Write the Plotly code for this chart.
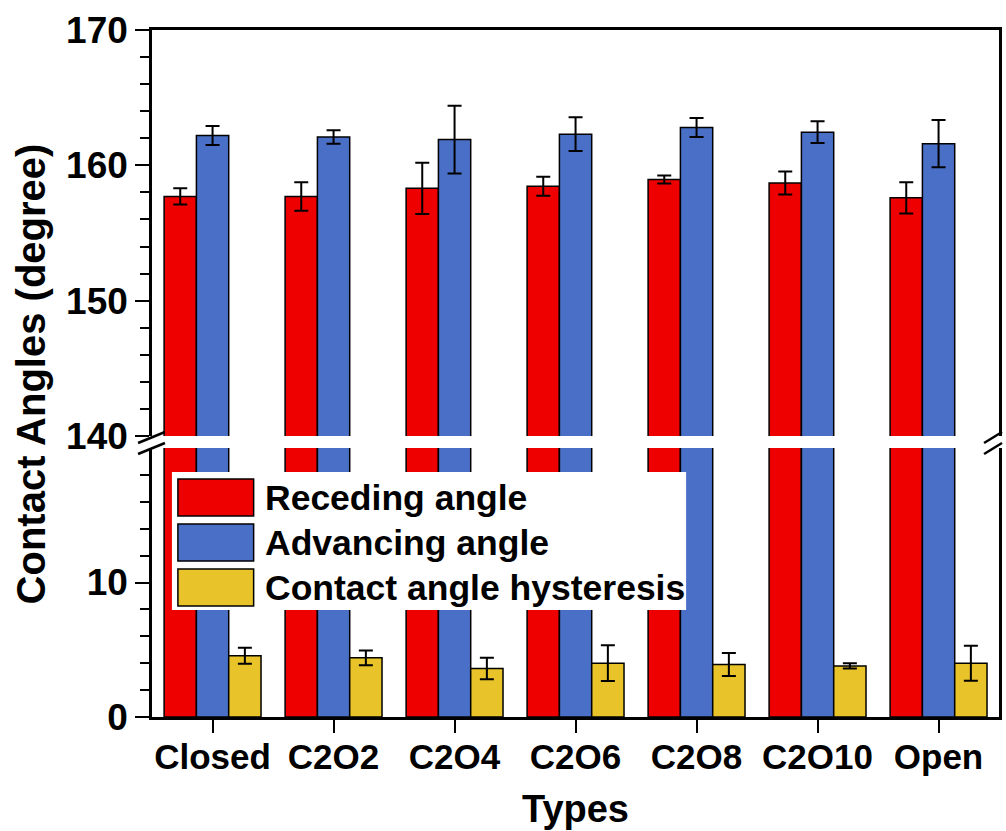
import plotly.graph_objects as go

categories = ["Closed", "C2O2", "C2O4", "C2O6", "C2O8", "C2O10", "Open"]
receding = [157.7, 157.7, 158.3, 158.45, 158.95, 158.7, 157.6]
receding_err = [0.6, 1.05, 1.9, 0.7, 0.3, 0.85, 1.15]
advancing = [162.2, 162.1, 161.9, 162.3, 162.8, 162.45, 161.6]
advancing_err = [0.7, 0.5, 2.5, 1.25, 0.7, 0.8, 1.75]
hysteresis = [4.55, 4.4, 3.6, 4.0, 3.9, 3.8, 4.0]
hysteresis_err = [0.6, 0.55, 0.8, 1.33, 0.85, 0.2, 1.3]
series_names = ["Receding angle", "Advancing angle", "Contact angle hysteresis"]
colors = ["#EE0000", "#4A6FC6", "#E9C32A"]

W, H = 1006, 831
L, R, T, B = 152, 4, 30, 114
PW, PH = W - L - R, H - T - B


def xp(px):
    return (px - L) / PW


def yp(py):
    return (H - B - py) / PH


FONT = "Liberation Sans, Arial, sans-serif"
bw = 0.267
offsets = [-0.4, -0.4 + bw, -0.4 + 2 * bw]

fig = go.Figure()


def err(arr):
    return dict(type="data", array=arr, visible=True, color="black", thickness=2, width=7)


# lower panel (all three series)
for vals, e, name, c, off in [
    (receding, None, series_names[0], colors[0], offsets[0]),
    (advancing, None, series_names[1], colors[1], offsets[1]),
    (hysteresis, hysteresis_err, series_names[2], colors[2], offsets[2]),
]:
    fig.add_trace(go.Bar(
        x=categories, y=vals, name=name, width=bw, offset=off,
        marker=dict(color=c, line=dict(color="black", width=1.5)),
        error_y=err(e) if e is not None else None,
        xaxis="x", yaxis="y", showlegend=False,
    ))

# upper panel (receding, advancing)
for vals, e, name, c, off in [
    (receding, receding_err, series_names[0], colors[0], offsets[0]),
    (advancing, advancing_err, series_names[1], colors[1], offsets[1]),
]:
    fig.add_trace(go.Bar(
        x=categories, y=vals, name=name, width=bw, offset=off,
        marker=dict(color=c, line=dict(color="black", width=1.5)),
        error_y=err(e),
        xaxis="x2", yaxis="y2", showlegend=False,
    ))

lower_top = 448
upper_bottom = 436

ytickfont = dict(family=FONT, size=37, color="black", weight="bold")
xtickfont = dict(family=FONT, size=35, color="black", weight="bold")

fig.update_layout(
    width=W, height=H,
    margin=dict(l=L, r=R, t=T, b=B),
    paper_bgcolor="white", plot_bgcolor="white",
    barmode="overlay",
    showlegend=False,
    xaxis=dict(
        domain=[0, 1], anchor="y", type="category", range=[-0.5, 6.5],
        showline=True, linecolor="black", linewidth=2.5, mirror=False,
        ticks="outside", ticklen=13, tickwidth=2, tickcolor="black",
        tickfont=xtickfont, showgrid=False, zeroline=False,
        ticklabelstandoff=-6,
        title=dict(text="Types", font=dict(family=FONT, size=38, color="black", weight="bold"), standoff=21),
    ),
    xaxis2=dict(
        domain=[0, 1], anchor="y2", type="category", range=[-0.5, 6.5], matches="x",
        side="top", showline=True, linecolor="black", linewidth=2.5,
        ticks="", showticklabels=False, showgrid=False, zeroline=False,
    ),
    yaxis=dict(
        domain=[0, yp(lower_top)], anchor="x", range=[0, 20],
        tickvals=[0, 10], ticks="outside", ticklen=14, tickwidth=2, tickcolor="black",
        minor=dict(tickvals=[2, 4, 6, 8, 12, 14, 16, 18], ticks="outside", ticklen=9, tickwidth=2, tickcolor="black"),
        showline=True, linecolor="black", linewidth=2.5, mirror=True,
        tickfont=ytickfont, showgrid=False, zeroline=False,
    ),
    yaxis2=dict(
        domain=[yp(upper_bottom), 1], anchor="x2", range=[140, 170],
        tickvals=[140, 150, 160, 170], ticks="outside", ticklen=14, tickwidth=2, tickcolor="black",
        minor=dict(dtick=2, ticks="outside", ticklen=9, tickwidth=2, tickcolor="black"),
        showline=True, linecolor="black", linewidth=2.5, mirror=True,
        tickfont=ytickfont, showgrid=False, zeroline=False,
    ),
)

shapes = []
# break marks (left and right)
for x0, x1 in [(138, 165), (987, 1005)]:
    for dy in (0, 11):
        shapes.append(dict(type="line", xref="paper", yref="paper",
                           x0=xp(x0), y0=yp(443 + dy), x1=xp(x1), y1=yp(432 + dy),
                           line=dict(color="black", width=2.5)))

# custom legend
shapes.append(dict(type="rect", xref="paper", yref="paper",
                   x0=xp(172), x1=xp(688), y0=yp(610), y1=yp(472),
                   fillcolor="white", line=dict(width=0), layer="above"))
sw_tops = [479, 524, 569]
annotations = []
for i, (name, c) in enumerate(zip(series_names, colors)):
    top = sw_tops[i]
    shapes.append(dict(type="rect", xref="paper", yref="paper",
                       x0=xp(178), x1=xp(254), y0=yp(top + 37), y1=yp(top),
                       fillcolor=c, line=dict(color="black", width=1.5), layer="above"))
    annotations.append(dict(xref="paper", yref="paper", x=xp(263), y=yp(top + 18.5),
                            text=name, showarrow=False, xanchor="left", yanchor="middle",
                            font=dict(family=FONT, size=35.5, color="black", weight="bold")))

annotations.append(dict(xref="paper", yref="paper", x=xp(31), y=yp(374),
                        text="Contact Angles (degree)", showarrow=False, textangle=-90,
                        xanchor="center", yanchor="middle",
                        font=dict(family=FONT, size=40, color="black", weight="bold")))

fig.update_layout(shapes=shapes, annotations=annotations)

fig.write_html("out.html")
